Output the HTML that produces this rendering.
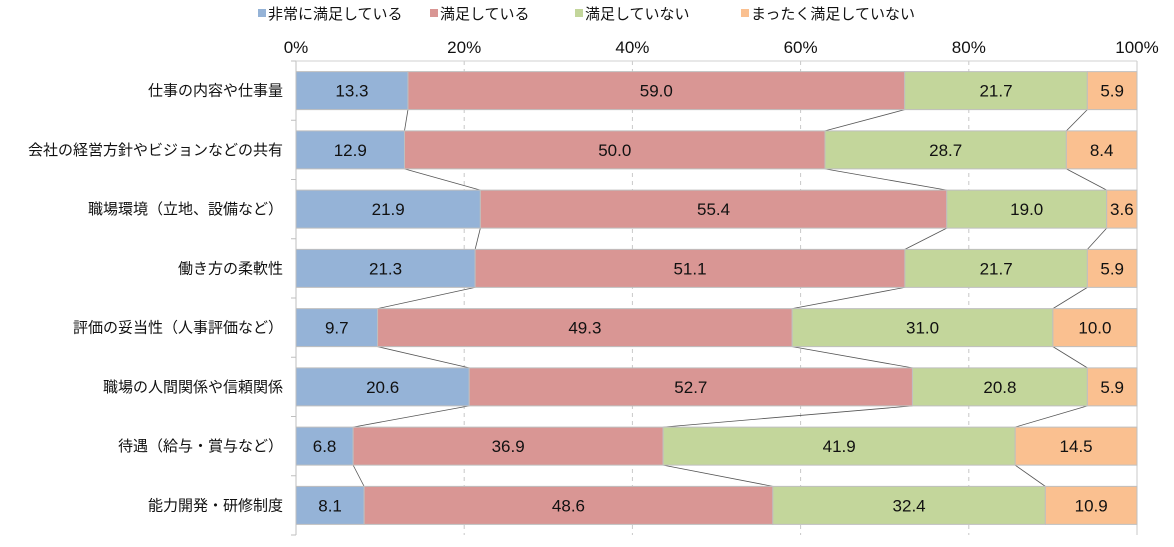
<!DOCTYPE html>
<html><head><meta charset="utf-8"><style>
body{margin:0;background:#fff}
svg text{font-family:"Liberation Sans","Noto Sans CJK JP",sans-serif;fill:#111}
</style></head><body>
<svg id="chart" width="1174" height="542"></svg>
<script>
const categories=["仕事の内容や仕事量","会社の経営方針やビジョンなどの共有","職場環境（立地、設備など）","働き方の柔軟性","評価の妥当性（人事評価など）","職場の人間関係や信頼関係","待遇（給与・賞与など）","能力開発・研修制度"];
const seriesNames=["非常に満足している","満足している","満足していない","まったく満足していない"];
const s1=[13.3,12.9,21.9,21.3,9.7,20.6,6.8,8.1];
const s2=[59.0,50.0,55.4,51.1,49.3,52.7,36.9,48.6];
const s3=[21.7,28.7,19.0,21.7,31.0,20.8,41.9,32.4];
const s4=[5.9,8.4,3.6,5.9,10.0,5.9,14.5,10.9];
const ticks=[0,20,40,60,80,100];
const colors=["#95B3D7","#D99694","#C3D69B","#FAC090"];
const series=[s1,s2,s3,s4];
const NS="http://www.w3.org/2000/svg";
const svg=document.getElementById('chart');
const X0=296,X1=1137,Y0=61,Y1=535;
const n=categories.length,pitch=(Y1-Y0)/n,bh=38;
const x=v=>X0+(X1-X0)*v/100;
const yc=i=>Y0+pitch*(i+0.5);
function mk(t,a,p){const e=document.createElementNS(NS,t);for(const k in a)e.setAttribute(k,a[k]);(p||svg).appendChild(e);return e;}
// grid
ticks.forEach(t=>{
 const l=mk('line',{x1:x(t),x2:x(t),y1:Y0,y2:Y1,stroke:t==0?'#bfbfbf':'#c8c8c8','stroke-dasharray':t==0||t==100?'':'4,4'});
 
 
 const tx=mk('text',{x:x(t),y:53,'text-anchor':'middle','font-size':17});
 tx.textContent=t+'%';
 
 
});
mk('line',{x1:X0,x2:X1,y1:Y0,y2:Y0,stroke:'#d0d0d0'});
for(let i=0;i<=n;i++){mk('line',{x1:X0-5,x2:X0,y1:Y0+pitch*i,y2:Y0+pitch*i,stroke:'#bfbfbf'});}
// compute normalized cumulative
const cums=categories.map((c,i)=>{const tot=series.reduce((a,s)=>a+s[i],0);let acc=0;return series.map(s=>{acc+=s[i]/tot*100;return acc;});});
// connector lines
for(let i=0;i<n-1;i++){for(let k=0;k<3;k++){
 const l=mk('line',{x1:x(cums[i][k]),y1:yc(i)+bh/2,x2:x(cums[i+1][k]),y2:yc(i+1)-bh/2,stroke:'#555','stroke-width':0.8});
 
 
}}
categories.forEach((c,i)=>{
 const lab=mk('text',{x:283,y:yc(i)+5,'text-anchor':'end','font-size':15});
 lab.textContent=c;
 
 
 let prev=0;
 series.forEach((s,k)=>{
  const end=cums[i][k];
  const r=mk('rect',{x:x(prev),y:yc(i)-bh/2,width:x(end)-x(prev),height:bh,fill:colors[k],stroke:'#bfbfbf','stroke-width':1});
  
  
  const t=mk('text',{x:(x(prev)+x(end))/2,y:yc(i)+6,'text-anchor':'middle','font-size':17});
  t.textContent=s[i].toFixed(1);
  
  
  prev=end;
 });
});
// legend
const lx=[258,430,575,741];
seriesNames.forEach((nm,k)=>{
 const r=mk('rect',{x:lx[k],y:9,width:8,height:8,fill:colors[k]});
 
 
 const t=mk('text',{x:lx[k]+10,y:19,'font-size':15});
 t.textContent=nm;
 
 
});
</script>
</body></html>
